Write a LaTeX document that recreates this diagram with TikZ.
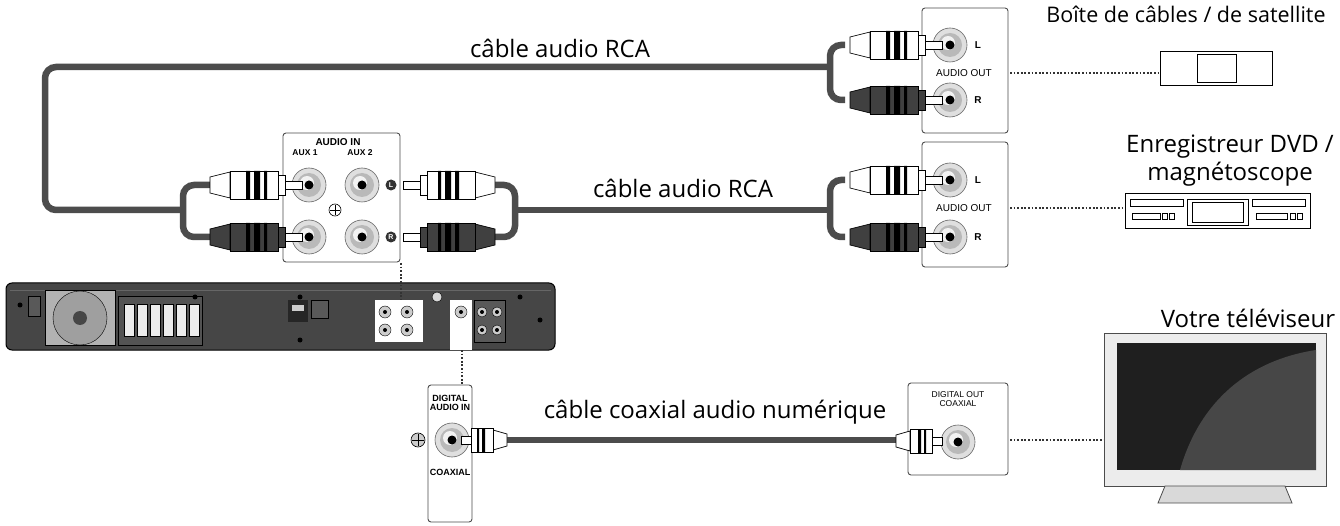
\documentclass[tikz,border=0pt]{standalone}
\usepackage{fontspec}
\setmainfont{Open Sans}
\newfontfamily\lab{Liberation Sans}
\begin{document}
\begin{tikzpicture}[x=1pt,y=-1pt,
  cable/.style={line width=6.5pt,draw=gray!60!black,rounded corners=11pt},
  panel/.style={draw=black!70,line width=0.9pt,fill=white,rounded corners=3pt},
  dots/.style={line width=1.8pt,dash pattern=on 1.8pt off 1.8pt,draw=black!80},
  big/.style={font=\fontsize{24}{26}\selectfont},
  tiny/.style={font=\lab\fontsize{10}{10.5}\selectfont},
  tinyb/.style={font=\lab\bfseries\fontsize{10}{10.5}\selectfont},
  pics/rca/.style={code={
    \fill[#1,draw=black,line width=0.7pt] (0,-8)--(20,-13)--(20,13)--(0,8)--cycle;
    \fill[#1,draw=black,line width=0.7pt] (20,-14) rectangle (68,14);
    \fill[black] (36,-14) rectangle (40,14) (44,-14) rectangle (50,14) (54,-14) rectangle (57,14);
    \fill[#1,draw=black,line width=0.7pt] (68,-10) rectangle (75,10);
    \fill[white,draw=black,line width=0.7pt] (75,-4) rectangle (92,4);}},
  pics/coax/.style={code={
    \fill[white,draw=black,line width=0.7pt] (0,-6)--(14,-10)--(14,10)--(0,6)--cycle;
    \fill[white,draw=black,line width=0.7pt] (14,-12) rectangle (36,12);
    \fill[black] (22,-12) rectangle (25,12) (28,-12) rectangle (30,12);
    \fill[white,draw=black,line width=0.7pt] (36,-4) rectangle (46,4);}},
  pics/jack/.style={code={
    \fill[gray!25,draw=black!60,line width=0.6pt] (0,0) circle (17pt);
    \fill[gray!55] (0,0) circle (12pt);
    \fill[gray!10] (-2,-2) circle (7pt);
    \fill[black] (0,0) circle (4.5pt);}}
]
\useasboundingbox (0,0) rectangle (1340,526);
\fill[white] (0,0) rectangle (1340,526);

% ---------- cables
\draw[cable] (210,185)--(183,185)--(183,237)--(210,237);
\draw[cable] (183,210)--(45,210)--(45,67)--(830,67);
\draw[cable] (845,45)--(830,45)--(830,100)--(845,100);
\draw[cable] (495,185)--(515,185)--(515,237)--(495,237);
\draw[cable] (515,210)--(830,210);
\draw[cable] (845,180)--(830,180)--(830,237)--(845,237);
\draw[line width=6.5pt,draw=gray!60!black] (505,440)--(898,440);

% ---------- labels
\node[big] (t1) at (560,48) {câble audio RCA};
\node[big] (t2) at (683,188) {câble audio RCA};
\node[big] (t3) at (715,412) {câble coaxial audio numérique};
\node[big,font=\fontsize{21.5}{23}\selectfont] (t4) at (1186,14) {Boîte de câbles / de satellite};
\node[big,align=center,font=\fontsize{24}{28}\selectfont] (t5) at (1230,161) {Enregistreur DVD /\\magnétoscope};
\node[big] (t6) at (1248,318) {Votre téléviseur};

% ---------- AUDIO IN panel
\draw[panel] (283,133) rectangle (400,262);
\node[tinyb] at (338,142) {AUDIO IN};
\node[tinyb,font=\lab\bfseries\fontsize{8.5}{9}\selectfont] at (305,153) {AUX 1};
\node[tinyb,font=\lab\bfseries\fontsize{8.5}{9}\selectfont] at (360,153) {AUX 2};
\pic at (309,185) {jack}; \pic at (362,185) {jack};
\pic at (309,237) {jack}; \pic at (362,237) {jack};
\draw[line width=0.6pt] (335,210) circle (6pt); \draw (330,210)--(340,210) (335,205)--(335,215);
\fill[black!80] (391,185) circle (5.5pt); \node[white,tinyb,font=\lab\bfseries\fontsize{7}{7}\selectfont] at (391,185) {L};
\fill[black!80] (391,237) circle (5.5pt); \node[white,tinyb,font=\lab\bfseries\fontsize{7}{7}\selectfont] at (391,237) {R};
\pic at (210,185) {rca=white};
\pic at (210,237) {rca=gray!50!black};
\pic[xscale=-1] at (495,185) {rca=white};
\pic[xscale=-1] at (495,237) {rca=gray!50!black};

% ---------- AUDIO OUT panels
\foreach \yy/\ya/\yb/\yc in {8/45/100/73, 142/180/237/208}{
  \draw[panel] (922,\yy) rectangle (1008,\yy+125);
  \pic at (950,\ya) {jack}; \pic at (950,\yb) {jack};
  \node[tinyb] at (978,\ya) {L}; \node[tinyb] at (978,\yb) {R};
  \node[tiny] at (964,\yc) {AUDIO OUT};
  \pic at (850,\ya) {rca=white};
  \pic at (850,\yb) {rca=gray!50!black};
}

% ---------- cable box
\draw[line width=1pt] (1160,52) rectangle (1272,86);
\draw[line width=1pt] (1197,55) rectangle (1236,83);
\coordinate (cb) at (1160,73);
\draw[dots] (1010,73)--(cb);
% ---------- DVD recorder
\draw[line width=1pt] (1125,194) rectangle (1310,229);
\draw[line width=0.8pt] (1187,199) rectangle (1248,225) (1192,202) rectangle (1243,222);
\draw[line width=0.8pt] (1130,199) rectangle (1183,206) (1252,199) rectangle (1305,206);
\draw[line width=0.7pt] (1132,213) rectangle (1160,219) (1162,213) rectangle (1167,219) (1169,213) rectangle (1174,219);
\draw[line width=0.7pt] (1256,213) rectangle (1287,219) (1290,213) rectangle (1295,219) (1297,213) rectangle (1302,219);
\coordinate (dv) at (1125,208);
\draw[dots] (1010,208)--(dv);

% ---------- receiver
\fill[gray!55!black,draw=black,line width=1pt,rounded corners=6pt] (6,283) rectangle (555,350);
\draw[black!60,line width=0.8pt] (10,290)--(551,290);
\fill[gray!70!black,draw=black] (28,296) rectangle (40,316);
\fill[gray!60,draw=black] (45,290) rectangle (115,345);
\fill[gray!75,draw=black] (80,318) circle (27pt);
\fill[gray!55!black] (80,318) circle (7pt);
\fill[gray!65!black,draw=black] (118,296) rectangle (202,345);
\foreach \i in {0,...,5} \fill[gray!15,draw=black,line width=0.4pt] (124+\i*13,304) rectangle (134+\i*13,336);
\fill[black!85] (288,300) rectangle (308,322);
\fill[gray!40] (292,305) rectangle (304,311);
\fill[gray!70!black,draw=black] (311,300) rectangle (328,318);
\fill[white] (375,300) rectangle (423,342);
\foreach \xx in {385,407}\foreach \yq in {312,330} {\fill[gray!40,draw=black] (\xx,\yq) circle (6pt); \fill[black] (\xx,\yq) circle (2pt);}
\fill[gray!30,draw=black] (437,297) circle (5pt);
\fill[white] (450,300) rectangle (472,350);
\fill[gray!40,draw=black] (461,312) circle (6pt); \fill[black] (461,312) circle (2pt);
\fill[gray!70!black,draw=black] (474,300) rectangle (505,342);
\foreach \xx in {482,497}\foreach \yq in {312,330} {\fill[gray!40,draw=black] (\xx,\yq) circle (5pt); \fill[black] (\xx,\yq) circle (2pt);}
\foreach \p in {(20,305),(195,297),(300,297),(300,340),(540,320),(520,297)} \fill[black] \p circle (2.5pt);
\coordinate (rx1) at (401,300);
\coordinate (rx2) at (462,350);
\draw[dots] (401,263)--(rx1);
\draw[dots] (rx2)--(462,385);

% ---------- digital audio in panel
\draw[panel] (428,385) rectangle (472,522);
\node[tinyb,align=center,font=\lab\bfseries\fontsize{9}{9.5}\selectfont] at (450,403) {DIGITAL\\AUDIO IN};
\node[tinyb,font=\lab\bfseries\fontsize{9}{9.5}\selectfont] at (450,472) {COAXIAL};
\pic at (452,440) {jack};
\fill[gray!40,draw=black,line width=0.6pt] (418,440) circle (7pt);
\draw[line width=0.8pt] (412,440)--(424,440) (418,434)--(418,446);
\pic[xscale=-1] at (507,440) {coax};

% ---------- digital out panel
\draw[panel] (908,383) rectangle (1008,475);
\node[tiny,align=center,font=\lab\fontsize{8.5}{9}\selectfont] at (958,399) {DIGITAL OUT\\COAXIAL};
\pic at (958,442) {jack};
\pic at (896,441) {coax};
\coordinate (tv) at (1104,440);
\draw[dots] (1010,440)--(tv);

% ---------- TV
\fill[gray!15,draw=black!70,line width=1pt] (1104,333) rectangle (1326,486);
\fill[black!88] (1117,343) rectangle (1316,470);
\fill[black!72] (1180,470) .. controls (1200,400) and (1250,360) .. (1316,350) -- (1316,470) -- cycle;
\fill[gray!30,draw=black!70,line width=0.8pt] (1165,486)--(1158,503)--(1292,503)--(1285,486)--cycle;
\end{tikzpicture}
\end{document}
